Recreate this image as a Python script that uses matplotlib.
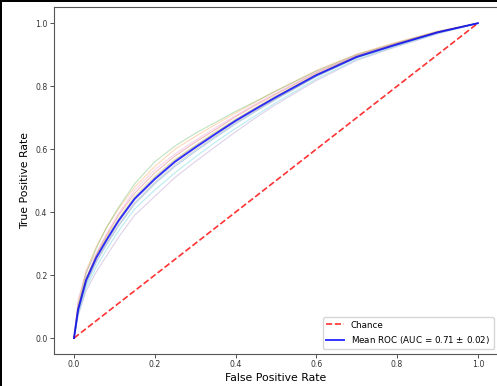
import numpy as np
import matplotlib
matplotlib.use('Agg')
import matplotlib.pyplot as plt, matplotlib.patches as mpatches

# Shared false positive rate grid
fpr = [0, 0.01, 0.03, 0.055, 0.08, 0.11, 0.15, 0.2, 0.25, 0.3, 0.35, 0.4, 0.45, 0.5, 0.6, 0.7, 0.8, 0.9, 1.0]

# Per-fold true positive rates
fold_tpr = [
    [0, 0.08, 0.17, 0.24, 0.295, 0.355, 0.425, 0.49, 0.545, 0.592, 0.637, 0.68, 0.72, 0.758, 0.83, 0.89, 0.931, 0.97, 1],
    [0, 0.11, 0.215, 0.29, 0.35, 0.41, 0.48, 0.545, 0.60, 0.64, 0.678, 0.715, 0.75, 0.785, 0.85, 0.902, 0.94, 0.975, 1],
    [0, 0.10, 0.205, 0.285, 0.35, 0.415, 0.49, 0.56, 0.61, 0.65, 0.685, 0.72, 0.752, 0.785, 0.848, 0.90, 0.938, 0.973, 1],
    [0, 0.095, 0.19, 0.265, 0.325, 0.39, 0.46, 0.525, 0.578, 0.622, 0.662, 0.703, 0.74, 0.775, 0.842, 0.897, 0.936, 0.972, 1],
    [0, 0.07, 0.15, 0.21, 0.26, 0.32, 0.39, 0.45, 0.51, 0.56, 0.608, 0.655, 0.70, 0.742, 0.818, 0.882, 0.926, 0.966, 1],
    [0, 0.09, 0.185, 0.26, 0.315, 0.375, 0.445, 0.51, 0.565, 0.61, 0.652, 0.693, 0.73, 0.767, 0.837, 0.894, 0.934, 0.971, 1],
    [0, 0.12, 0.21, 0.27, 0.33, 0.395, 0.47, 0.535, 0.585, 0.628, 0.668, 0.707, 0.744, 0.778, 0.845, 0.899, 0.937, 0.972, 1],
    [0, 0.085, 0.175, 0.245, 0.30, 0.36, 0.43, 0.495, 0.55, 0.597, 0.641, 0.684, 0.723, 0.76, 0.832, 0.891, 0.932, 0.97, 1],
    [0, 0.095, 0.19, 0.26, 0.32, 0.38, 0.45, 0.515, 0.568, 0.612, 0.655, 0.695, 0.733, 0.77, 0.838, 0.895, 0.934, 0.971, 1],
    [0, 0.075, 0.16, 0.225, 0.28, 0.34, 0.41, 0.47, 0.525, 0.575, 0.622, 0.666, 0.707, 0.748, 0.823, 0.885, 0.928, 0.968, 1],
]

# Mean ROC curve
mean_tpr = [0, 0.09, 0.184, 0.255, 0.31, 0.372, 0.442, 0.505, 0.56, 0.605, 0.648, 0.69, 0.728, 0.765, 0.835, 0.893, 0.933, 0.971, 1.0]
mean_auc = 0.71
std_auc = 0.02

# Define figure and axes
fig = plt.figure(figsize = (4.97, 3.86), dpi = 100, facecolor = 'white')
ax = fig.add_axes([0.1083, 0.0834, 0.8938, 0.8972])

# Individual folds
colors = plt.cm.tab10.colors
for i, tpr in enumerate(fold_tpr):
    ax.plot(fpr, tpr, lw = 0.8, alpha = 0.3, color = colors[i % 10])

# Chance line and mean ROC
ax.plot([0, 1], [0, 1], linestyle = '--', lw = 1.2, color = 'r', alpha = 0.8, label = 'Chance')
ax.plot(fpr, mean_tpr, color = 'b', lw = 1.4, alpha = 0.8,
        label = 'Mean ROC (AUC = %0.2f $\\pm$ %0.2f)' % (mean_auc, std_auc))

# Axes styling
ax.set_xticks([0, 0.2, 0.4, 0.6, 0.8, 1.0])
ax.set_yticks([0, 0.2, 0.4, 0.6, 0.8, 1.0])
ax.tick_params(labelsize = 5.6, length = 3.2, width = 0.6, pad = 1.5, colors = '#333333')
for s in ax.spines.values():
    s.set_color('#555555')
    s.set_linewidth(0.8)
ax.set_xlabel('False Positive Rate', fontsize = 7.8, labelpad = 2.5)
ax.set_ylabel('True Positive Rate', fontsize = 7.8, labelpad = 3.5)
ax.legend(loc = 'lower right', fontsize = 6.3)

# Screenshot border (top and left)
fig.add_artist(mpatches.Rectangle((0, 1 - 2.3 / 386), 1, 2.3 / 386, transform = fig.transFigure,
                                  facecolor = 'black', edgecolor = 'none'))
fig.add_artist(mpatches.Rectangle((0, 0), 2.3 / 497, 1, transform = fig.transFigure,
                                  facecolor = 'black', edgecolor = 'none'))

plt.savefig('out.png', dpi = 100)
